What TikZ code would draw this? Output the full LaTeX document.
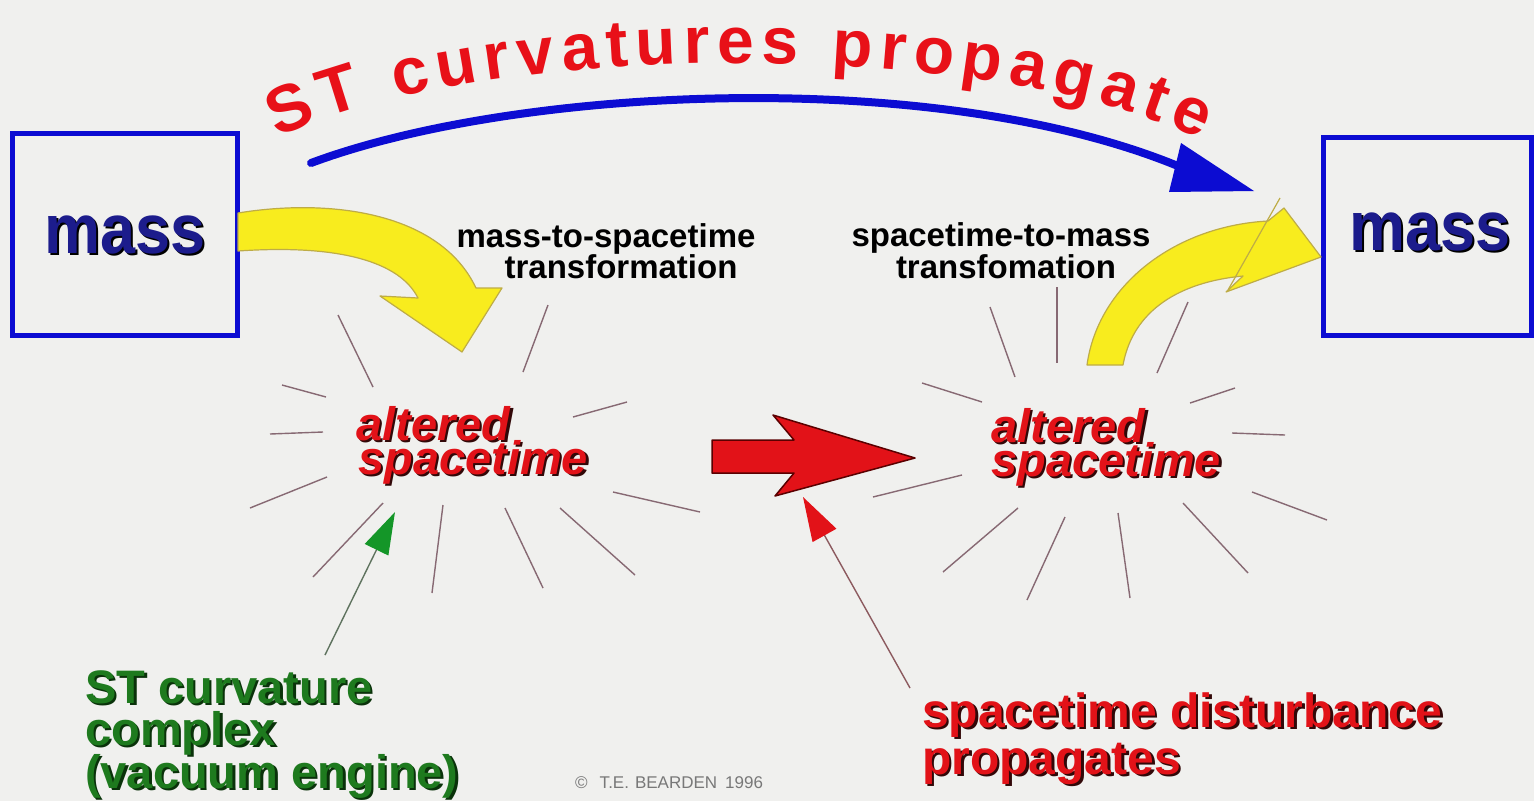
\documentclass[tikz,border=0pt]{standalone}
\usepackage{fontspec}
\usepackage{graphicx}
\setmainfont{Liberation Sans}
\usetikzlibrary{arrows.meta,decorations.text}
\definecolor{bg}{RGB}{240,240,238}
\definecolor{boxblue}{RGB}{12,12,210}
\definecolor{massblue}{RGB}{28,28,140}
\definecolor{titlered}{RGB}{232,16,24}
\definecolor{altred}{RGB}{226,18,24}
\definecolor{shadowdark}{RGB}{50,8,8}
\definecolor{raycol}{RGB}{135,105,115}
\definecolor{arrowyellow}{RGB}{248,236,30}
\definecolor{yellowedge}{RGB}{190,172,70}
\definecolor{greentext}{RGB}{30,122,30}
\definecolor{greenshadow}{RGB}{10,50,10}
\definecolor{greenarrow}{RGB}{20,150,40}
\definecolor{greenline}{RGB}{95,115,95}
\definecolor{redline}{RGB}{140,90,95}
\definecolor{darkred}{RGB}{90,0,0}
\definecolor{copygray}{RGB}{120,120,120}
\newcommand{\myfs}[2]{\fontsize{#1}{#2}\selectfont}
\newcommand{\shtext}[2]{\rlap{\kern2.5pt\raisebox{-2.5pt}{\textcolor{#1}{#2}}}#2}
\newcommand{\titlefont}{\myfs{66}{66}\bfseries\color{titlered}}
\begin{document}
\begin{tikzpicture}[x=1pt,y=1pt,
  massbox/.style={draw=boxblue, line width=5pt, inner sep=0pt},
  masstext/.style={text=massblue, font=\myfs{70}{70}\bfseries, inner sep=0pt, anchor=base},
  transtext/.style={text=black, font=\myfs{33}{33}\bfseries, inner sep=0pt, anchor=base},
  alttext/.style={text=altred, font=\myfs{47}{47}\bfseries\itshape, inner sep=0pt, anchor=base west},
  greenlbl/.style={text=greentext, font=\myfs{47}{47}\bfseries, inner sep=0pt, anchor=base west},
  redlbl/.style={text=altred, font=\myfs{48}{48}\bfseries, inner sep=0pt, anchor=base west},
  ray/.style={draw=raycol, line width=1.4pt},
  yarrow/.style={fill=arrowyellow, draw=yellowedge, line width=1.2pt, line join=round},
]
\useasboundingbox (0,0) rectangle (1534,-801);
\fill[bg] (0,0) rectangle (1534,-801);

% boxes
\node[massbox, minimum width=225pt, minimum height=202pt] (boxL) at (125,-234) {};
\node[massbox, minimum width=208pt, minimum height=198pt] (boxR) at (1427,-236) {};
\node[masstext] (massL) at (125,-253) {\scalebox{0.9}[1]{\shtext{black}{mass}}};
\node[masstext] (massR) at (1430,-250) {\scalebox{0.9}[1]{\shtext{black}{mass}}};

% title along arc
\path[decorate, decoration={text along path, text align=fit to path,
  text={|\titlefont|ST curvatures propagate}}]
  (278,-138) .. controls (480,-38) and (1000,-38) .. (1200,-140);

% blue arrow
\coordinate (bstart) at (311,-163);
\coordinate (bend) at (1192,-172);
\draw[boxblue, line width=8pt, line cap=round] (bstart) .. controls (520,-85) and (950,-65) .. (bend);
\fill[boxblue] (1181,-143) -- (1254,-191) -- (1169,-192) -- cycle;

% transformation labels
\node[transtext] (mts1) at (606,-247) {mass-to-spacetime};
\node[transtext] (mts2) at (621,-278) {transformation};
\node[transtext] (stm1) at (1001,-246) {spacetime-to-mass};
\node[transtext] (stm2) at (1006,-278) {transfomation};

% rays left
\draw[ray] (338,-315) -- (373,-387);
\draw[ray] (548,-305) -- (523,-372);
\draw[ray] (282,-385) -- (326,-397);
\draw[ray] (270,-434) -- (323,-432);
\draw[ray] (250,-508) -- (327,-477);
\draw[ray] (573,-417) -- (627,-402);
\draw[ray] (613,-492) -- (700,-512);
\draw[ray] (560,-508) -- (635,-575);
\draw[ray] (505,-508) -- (543,-588);
\draw[ray] (443,-505) -- (432,-593);
\draw[ray] (383,-503) -- (313,-577);
% rays right
\draw[ray] (990,-307) -- (1015,-377);
\draw[ray] (1057,-287) -- (1057,-363);
\draw[ray] (1188,-302) -- (1157,-373);
\draw[ray] (922,-383) -- (982,-402);
\draw[ray] (1190,-403) -- (1235,-388);
\draw[ray] (1232,-433) -- (1285,-435);
\draw[ray] (873,-497) -- (962,-475);
\draw[ray] (1252,-492) -- (1327,-520);
\draw[ray] (943,-572) -- (1018,-508);
\draw[ray] (1027,-600) -- (1065,-517);
\draw[ray] (1130,-598) -- (1118,-513);
\draw[ray] (1248,-573) -- (1183,-503);

% yellow arrows
\filldraw[yarrow] (238,-213) .. controls (330,-198) and (440,-212) .. (476,-288)
  -- (502,-288) -- (462,-352) -- (380,-296) -- (418,-298)
  .. controls (400,-262) and (340,-244) .. (238,-251) -- cycle;
\filldraw[yarrow] (1087,-365) .. controls (1098,-285) and (1175,-226) .. (1268,-221)
  -- (1284,-208) -- (1321,-257) -- (1226,-292) -- (1243,-276)
  .. controls (1180,-282) and (1133,-310) .. (1123,-365) -- cycle;
\draw[draw=yellowedge, line width=1.2pt] (1280,-198) -- (1228,-290);

% red block arrow
\filldraw[fill=altred, draw=darkred, line width=1.5pt, line join=round]
  (712,-440) -- (794,-440) -- (773,-415) -- (915,-458) -- (775,-496) -- (794,-473) -- (712,-473) -- cycle;

% altered spacetime labels
\node[alttext] (altL1) at (356,-440) {\shtext{shadowdark}{altered}};
\node[alttext] (altL2) at (358,-474) {\shtext{shadowdark}{spacetime}};
\node[alttext] (altR1) at (991,-442) {\shtext{shadowdark}{altered}};
\node[alttext] (altR2) at (991,-476) {\shtext{shadowdark}{spacetime}};

% green label and arrow
\node[greenlbl] (green1) at (85,-703) {\shtext{greenshadow}{ST curvature}};
\node[greenlbl] (green2) at (85,-745) {\shtext{greenshadow}{complex}};
\node[greenlbl] (green3) at (85,-788) {\shtext{greenshadow}{(vacuum engine)}};
\coordinate (gstart) at (325,-655);
\coordinate (gtip) at (395,-512);
\draw[greenline, line width=1.4pt, -{Triangle[length=42pt,width=26pt,color=greenarrow]}] (gstart) -- (gtip);

% red label and arrow
\node[redlbl] (red1) at (922,-727) {\shtext{shadowdark}{spacetime disturbance}};
\node[redlbl] (red2) at (922,-774) {\shtext{shadowdark}{propagates}};
\coordinate (rstart) at (910,-688);
\coordinate (rtip) at (803,-497);
\draw[redline, line width=1.4pt, -{Triangle[length=44pt,width=27pt,color=altred]}] (rstart) -- (rtip);

% copyright
\node[text=copygray, font=\myfs{17}{17}, inner sep=0pt, anchor=base west] (copy) at (575,-788)
  {©\hspace{12pt}T.E.\hspace{6pt}BEARDEN\hspace{8pt}1996};
\end{tikzpicture}
\end{document}
